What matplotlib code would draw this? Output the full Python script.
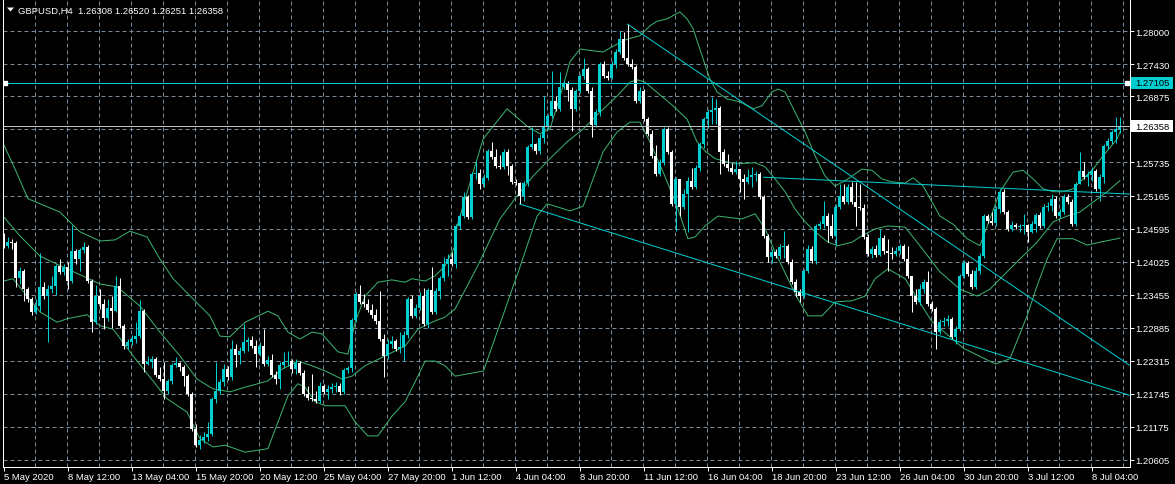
import matplotlib
matplotlib.use("Agg")
import matplotlib.pyplot as plt
from matplotlib.patches import Polygon, Rectangle
import numpy as np

plt.rcParams['font.family'] = ['Liberation Sans', 'DejaVu Sans']

# GBPUSD H4 candles, bar 0 = 5 May 2020 20:00, one bar every 4 hours
opens = [
    1.2442, 1.2430, 1.2436, 1.2435, 1.2374, 1.2386, 1.2355, 1.2338, 1.2316, 1.2326,
    1.2359, 1.2343, 1.2355, 1.2361, 1.2395, 1.2385, 1.2393, 1.2369, 1.2421, 1.2407,
    1.2423, 1.2428, 1.2369, 1.2298, 1.2343, 1.2330, 1.2305, 1.2323, 1.2317, 1.2361,
    1.2292, 1.2257, 1.2264, 1.2269, 1.2274, 1.2317, 1.2226, 1.2229, 1.2235, 1.2207,
    1.2200, 1.2180, 1.2197, 1.2224, 1.2228, 1.2221, 1.2205, 1.2174, 1.2114, 1.2086,
    1.2095, 1.2100, 1.2105, 1.2166, 1.2180, 1.2195, 1.2217, 1.2204, 1.2252, 1.2242,
    1.2248, 1.2264, 1.2267, 1.2257, 1.2243, 1.2257, 1.2226, 1.2233, 1.2207, 1.2200,
    1.2224, 1.2229, 1.2231, 1.2217, 1.2228, 1.2210, 1.2174, 1.2167, 1.2166, 1.2162,
    1.2188, 1.2178, 1.2183, 1.2186, 1.2188, 1.2178, 1.2216, 1.2219, 1.2302, 1.2347,
    1.2333, 1.2330, 1.2319, 1.2310, 1.2300, 1.2269, 1.2240, 1.2260, 1.2266, 1.2252,
    1.2255, 1.2276, 1.2338, 1.2309, 1.2323, 1.2343, 1.2295, 1.2354, 1.2316, 1.2352,
    1.2374, 1.2398, 1.2407, 1.2398, 1.2464, 1.2481, 1.2514, 1.2480, 1.2554, 1.2555,
    1.2536, 1.2547, 1.2593, 1.2583, 1.2567, 1.2566, 1.2592, 1.2567, 1.2540, 1.2538,
    1.2516, 1.2538, 1.2600, 1.2605, 1.2593, 1.2616, 1.2636, 1.2654, 1.2680, 1.2666,
    1.2704, 1.2709, 1.2698, 1.2666, 1.2697, 1.2723, 1.2735, 1.2697, 1.2638, 1.2660,
    1.2743, 1.2723, 1.2719, 1.2743, 1.2764, 1.2786, 1.2754, 1.2743, 1.2738, 1.2680,
    1.2697, 1.2648, 1.2623, 1.2585, 1.2554, 1.2574, 1.2631, 1.2592, 1.2502, 1.2545,
    1.2497, 1.2519, 1.2542, 1.2531, 1.2564, 1.2605, 1.2648, 1.2660, 1.2664, 1.2667,
    1.2592, 1.2571, 1.2564, 1.2557, 1.2562, 1.2545, 1.2540, 1.2548, 1.2552, 1.2554,
    1.2514, 1.2447, 1.2411, 1.2419, 1.2412, 1.2428, 1.2430, 1.2402, 1.2367, 1.2350,
    1.2343, 1.2386, 1.2424, 1.2404, 1.2464, 1.2467, 1.2481, 1.2464, 1.2447, 1.2497,
    1.2516, 1.2505, 1.2531, 1.2505, 1.2497, 1.2495, 1.2445, 1.2416, 1.2424, 1.2414,
    1.2443, 1.2421, 1.2417, 1.2416, 1.2421, 1.2430, 1.2407, 1.2378, 1.2343, 1.2333,
    1.2355, 1.2367, 1.2330, 1.2321, 1.2281, 1.2298, 1.2300, 1.2304, 1.2273, 1.2286,
    1.2378, 1.2400, 1.2381, 1.2359, 1.2386, 1.2412, 1.2481, 1.2473, 1.2469, 1.2493,
    1.2523, 1.2488, 1.2459, 1.2466, 1.2462, 1.2464, 1.2466, 1.2454, 1.2467, 1.2483,
    1.2464, 1.2497, 1.2498, 1.2510, 1.2481, 1.2488, 1.2514, 1.2505, 1.2467, 1.2536,
    1.2559, 1.2548, 1.2552, 1.2559, 1.2528, 1.2548, 1.2602, 1.2610, 1.2626, 1.26308,
]
highs = [
    1.2452, 1.2445, 1.2442, 1.2438, 1.2393, 1.2390, 1.2359, 1.2342, 1.2338, 1.2417,
    1.2367, 1.2362, 1.2378, 1.2398, 1.2407, 1.2398, 1.2402, 1.2466, 1.2424, 1.2426,
    1.2436, 1.2431, 1.2373, 1.2362, 1.2355, 1.2338, 1.2338, 1.2343, 1.2378, 1.2374,
    1.2295, 1.2269, 1.2276, 1.2298, 1.2336, 1.2321, 1.2240, 1.2240, 1.2238, 1.2221,
    1.2229, 1.2200, 1.2228, 1.2238, 1.2229, 1.2224, 1.2209, 1.2178, 1.2123, 1.2104,
    1.2109, 1.2126, 1.2169, 1.2229, 1.2200, 1.2226, 1.2223, 1.2267, 1.2260, 1.2255,
    1.2295, 1.2273, 1.2274, 1.2267, 1.2264, 1.2286, 1.2240, 1.2243, 1.2214, 1.2229,
    1.2247, 1.2248, 1.2235, 1.2235, 1.2231, 1.2216, 1.2188, 1.2209, 1.2180, 1.2195,
    1.2192, 1.2190, 1.2193, 1.2195, 1.2193, 1.2219, 1.2223, 1.2305, 1.2350, 1.2362,
    1.2347, 1.2338, 1.2330, 1.2321, 1.2352, 1.2278, 1.2269, 1.2274, 1.2269, 1.2281,
    1.2283, 1.2342, 1.2345, 1.2330, 1.2350, 1.2357, 1.2357, 1.2393, 1.2357, 1.2378,
    1.2411, 1.2416, 1.2419, 1.2467, 1.2486, 1.2523, 1.2517, 1.2557, 1.2576, 1.2562,
    1.2554, 1.2597, 1.2609, 1.2597, 1.2586, 1.2597, 1.2597, 1.2571, 1.2545, 1.2540,
    1.2542, 1.2604, 1.2635, 1.2607, 1.2623, 1.2688, 1.2657, 1.2731, 1.2688, 1.2729,
    1.2714, 1.2714, 1.2704, 1.2700, 1.2726, 1.2754, 1.2738, 1.2704, 1.2666, 1.2747,
    1.2748, 1.2731, 1.2748, 1.2769, 1.2800, 1.2798, 1.2812, 1.2752, 1.2741, 1.2704,
    1.2700, 1.2652, 1.2630, 1.2604, 1.2580, 1.2635, 1.2635, 1.2595, 1.2548, 1.2545,
    1.2528, 1.2548, 1.2564, 1.2569, 1.2609, 1.2652, 1.2666, 1.2686, 1.2683, 1.2671,
    1.2597, 1.2588, 1.2573, 1.2576, 1.2562, 1.2554, 1.2562, 1.2566, 1.2559, 1.2557,
    1.2517, 1.2450, 1.2424, 1.2424, 1.2433, 1.2455, 1.2433, 1.2407, 1.2373, 1.2355,
    1.2390, 1.2431, 1.2430, 1.2467, 1.2473, 1.2507, 1.2486, 1.2485, 1.2502, 1.2536,
    1.2536, 1.2536, 1.2540, 1.2540, 1.2536, 1.2502, 1.2450, 1.2430, 1.2431, 1.2459,
    1.2448, 1.2442, 1.2428, 1.2428, 1.2433, 1.2433, 1.2430, 1.2378, 1.2355, 1.2364,
    1.2373, 1.2386, 1.2335, 1.2324, 1.2304, 1.2307, 1.2310, 1.2307, 1.2292, 1.2381,
    1.2405, 1.2404, 1.2388, 1.2393, 1.2417, 1.2485, 1.2485, 1.2488, 1.2498, 1.2528,
    1.2528, 1.2492, 1.2473, 1.2469, 1.2467, 1.2485, 1.2467, 1.2473, 1.2486, 1.2488,
    1.2502, 1.2505, 1.2519, 1.2516, 1.2493, 1.2519, 1.2519, 1.2510, 1.2540, 1.2592,
    1.2574, 1.2559, 1.2566, 1.2562, 1.2554, 1.2605, 1.2616, 1.2630, 1.2652, 1.26520,
]
lows = [
    1.2426, 1.2426, 1.2424, 1.2359, 1.2364, 1.2335, 1.2333, 1.2311, 1.2312, 1.2317,
    1.2338, 1.2264, 1.2348, 1.2345, 1.2381, 1.2379, 1.2355, 1.2366, 1.2398, 1.2386,
    1.2417, 1.2366, 1.2281, 1.2295, 1.2321, 1.2286, 1.2300, 1.2288, 1.2316, 1.2288,
    1.2252, 1.2252, 1.2259, 1.2262, 1.2271, 1.2212, 1.2224, 1.2219, 1.2204, 1.2197,
    1.2166, 1.2174, 1.2192, 1.2221, 1.2214, 1.2188, 1.2171, 1.2110, 1.2083, 1.2080,
    1.2090, 1.2093, 1.2102, 1.2159, 1.2174, 1.2188, 1.2198, 1.2198, 1.2221, 1.2226,
    1.2245, 1.2248, 1.2254, 1.2221, 1.2240, 1.2223, 1.2223, 1.2204, 1.2192, 1.2183,
    1.2219, 1.2223, 1.2210, 1.2209, 1.2207, 1.2171, 1.2164, 1.2162, 1.2159, 1.2159,
    1.2174, 1.2166, 1.2176, 1.2178, 1.2173, 1.2174, 1.2210, 1.2212, 1.2298, 1.2330,
    1.2324, 1.2316, 1.2305, 1.2295, 1.2266, 1.2204, 1.2235, 1.2254, 1.2248, 1.2245,
    1.2231, 1.2271, 1.2305, 1.2305, 1.2319, 1.2292, 1.2288, 1.2312, 1.2312, 1.2338,
    1.2369, 1.2378, 1.2395, 1.2392, 1.2459, 1.2478, 1.2476, 1.2476, 1.2545, 1.2528,
    1.2531, 1.2543, 1.2580, 1.2564, 1.2562, 1.2562, 1.2552, 1.2536, 1.2535, 1.2502,
    1.2507, 1.2533, 1.2597, 1.2588, 1.2588, 1.2607, 1.2631, 1.2650, 1.2662, 1.2662,
    1.2700, 1.2680, 1.2628, 1.2662, 1.2693, 1.2717, 1.2693, 1.2617, 1.2635, 1.2654,
    1.2719, 1.2716, 1.2717, 1.2736, 1.2760, 1.2750, 1.2740, 1.2735, 1.2676, 1.2676,
    1.2645, 1.2619, 1.2581, 1.2550, 1.2550, 1.2569, 1.2588, 1.2498, 1.2455, 1.2481,
    1.2493, 1.2454, 1.2528, 1.2528, 1.2559, 1.2598, 1.2633, 1.2640, 1.2640, 1.2554,
    1.2567, 1.2559, 1.2554, 1.2554, 1.2523, 1.2511, 1.2536, 1.2531, 1.2542, 1.2511,
    1.2443, 1.2402, 1.2400, 1.2409, 1.2407, 1.2409, 1.2398, 1.2364, 1.2342, 1.2333,
    1.2340, 1.2383, 1.2400, 1.2398, 1.2459, 1.2460, 1.2436, 1.2443, 1.2430, 1.2493,
    1.2502, 1.2502, 1.2502, 1.2464, 1.2492, 1.2442, 1.2412, 1.2409, 1.2411, 1.2412,
    1.2416, 1.2386, 1.2407, 1.2412, 1.2416, 1.2404, 1.2374, 1.2316, 1.2330, 1.2328,
    1.2348, 1.2326, 1.2317, 1.2252, 1.2278, 1.2292, 1.2292, 1.2269, 1.2260, 1.2283,
    1.2374, 1.2378, 1.2355, 1.2355, 1.2381, 1.2409, 1.2469, 1.2466, 1.2464, 1.2486,
    1.2485, 1.2455, 1.2455, 1.2459, 1.2454, 1.2450, 1.2436, 1.2452, 1.2454, 1.2460,
    1.2460, 1.2490, 1.2490, 1.2478, 1.2478, 1.2485, 1.2502, 1.2464, 1.2464, 1.2536,
    1.2545, 1.2533, 1.2542, 1.2524, 1.2507, 1.2538, 1.2597, 1.2605, 1.2607, 1.26251,
]
closes = [
    1.2430, 1.2436, 1.2435, 1.2374, 1.2386, 1.2355, 1.2338, 1.2316, 1.2326, 1.2359,
    1.2343, 1.2355, 1.2361, 1.2395, 1.2385, 1.2393, 1.2369, 1.2421, 1.2407, 1.2423,
    1.2428, 1.2369, 1.2298, 1.2343, 1.2330, 1.2305, 1.2323, 1.2317, 1.2361, 1.2292,
    1.2257, 1.2264, 1.2269, 1.2274, 1.2317, 1.2226, 1.2229, 1.2235, 1.2207, 1.2200,
    1.2180, 1.2197, 1.2224, 1.2228, 1.2221, 1.2205, 1.2174, 1.2114, 1.2086, 1.2095,
    1.2100, 1.2105, 1.2166, 1.2180, 1.2195, 1.2217, 1.2204, 1.2252, 1.2242, 1.2248,
    1.2264, 1.2267, 1.2257, 1.2243, 1.2257, 1.2226, 1.2233, 1.2207, 1.2200, 1.2224,
    1.2229, 1.2231, 1.2217, 1.2228, 1.2210, 1.2174, 1.2167, 1.2166, 1.2162, 1.2188,
    1.2178, 1.2183, 1.2186, 1.2188, 1.2178, 1.2216, 1.2219, 1.2302, 1.2347, 1.2333,
    1.2330, 1.2319, 1.2310, 1.2300, 1.2269, 1.2240, 1.2260, 1.2266, 1.2252, 1.2255,
    1.2276, 1.2338, 1.2309, 1.2323, 1.2343, 1.2295, 1.2354, 1.2316, 1.2352, 1.2374,
    1.2398, 1.2407, 1.2398, 1.2464, 1.2481, 1.2514, 1.2480, 1.2554, 1.2555, 1.2536,
    1.2547, 1.2593, 1.2583, 1.2567, 1.2566, 1.2592, 1.2567, 1.2540, 1.2538, 1.2516,
    1.2538, 1.2600, 1.2605, 1.2593, 1.2616, 1.2636, 1.2654, 1.2680, 1.2666, 1.2704,
    1.2709, 1.2698, 1.2666, 1.2697, 1.2723, 1.2735, 1.2697, 1.2638, 1.2660, 1.2743,
    1.2723, 1.2719, 1.2743, 1.2764, 1.2786, 1.2754, 1.2743, 1.2738, 1.2680, 1.2697,
    1.2648, 1.2623, 1.2585, 1.2554, 1.2574, 1.2631, 1.2592, 1.2502, 1.2545, 1.2497,
    1.2519, 1.2542, 1.2531, 1.2564, 1.2605, 1.2648, 1.2660, 1.2664, 1.2667, 1.2592,
    1.2571, 1.2564, 1.2557, 1.2562, 1.2545, 1.2540, 1.2548, 1.2552, 1.2554, 1.2514,
    1.2447, 1.2411, 1.2419, 1.2412, 1.2428, 1.2430, 1.2402, 1.2367, 1.2350, 1.2343,
    1.2386, 1.2424, 1.2404, 1.2464, 1.2467, 1.2481, 1.2464, 1.2447, 1.2497, 1.2516,
    1.2505, 1.2531, 1.2505, 1.2497, 1.2495, 1.2445, 1.2416, 1.2424, 1.2414, 1.2443,
    1.2421, 1.2417, 1.2416, 1.2421, 1.2430, 1.2407, 1.2378, 1.2343, 1.2333, 1.2355,
    1.2367, 1.2330, 1.2321, 1.2281, 1.2298, 1.2300, 1.2304, 1.2273, 1.2286, 1.2378,
    1.2400, 1.2381, 1.2359, 1.2386, 1.2412, 1.2481, 1.2473, 1.2469, 1.2493, 1.2523,
    1.2488, 1.2459, 1.2466, 1.2462, 1.2464, 1.2466, 1.2454, 1.2467, 1.2483, 1.2464,
    1.2497, 1.2498, 1.2510, 1.2481, 1.2488, 1.2514, 1.2505, 1.2467, 1.2536, 1.2559,
    1.2548, 1.2552, 1.2559, 1.2528, 1.2548, 1.2602, 1.2610, 1.2626, 1.26308, 1.26358,
]

# Bollinger bands at the bar positions listed
upper_bars = [0, 2.9, 6.1, 14.1, 19.1, 24.1, 27.9, 31.6, 35.9, 39.1, 42.4, 47.4, 51.6, 54.1,
              56.6, 60.4, 66.1, 68.6, 71.1, 74.1, 77.1, 79.6, 83.6, 86.1, 87.9, 90.4, 93.6,
              97.1, 100.4, 102.1, 105.4, 107.9, 110.4, 112.9, 113.4, 119.9, 125.9, 130.9,
              134.1, 136.6, 139.9, 141.6, 144.1, 147.4, 149.9, 152.4, 155.9, 159.1, 161.6,
              163.4, 165.9, 169.1, 170.9, 172.4, 174.9, 176.6, 178.4, 180.9, 184.1, 187.4,
              189.6, 192.1, 193.6, 195.4, 197.9, 200.4, 202.9, 205.4, 207.9, 211.1, 214.6,
              217.1, 219.6, 222.1, 225.4, 227.4, 229.9, 234.1, 237.4, 240.9, 244.1, 246.6,
              249.1, 252.4, 254.9, 257.4, 259.9, 262.4, 264.9, 267.4, 269.9, 272.4, 274.9,
              278.4, 279.1]
upper_vals = [1.2605, 1.2562, 1.2511, 1.2488, 1.2454, 1.2438, 1.2440, 1.2455, 1.2445, 1.2407,
              1.2373, 1.2338, 1.2309, 1.2274, 1.2273, 1.2298, 1.2317, 1.2309, 1.2281, 1.2269,
              1.2281, 1.2278, 1.2247, 1.2243, 1.2298, 1.2343, 1.2367, 1.2371, 1.2367, 1.2373,
              1.2369, 1.2378, 1.2395, 1.2430, 1.2464, 1.2614, 1.2666, 1.2636, 1.2623, 1.2631,
              1.2705, 1.2747, 1.2769, 1.2766, 1.2764, 1.2774, 1.2786, 1.2792, 1.2809, 1.2817,
              1.2821, 1.2833, 1.2821, 1.2804, 1.2752, 1.2717, 1.2695, 1.2683, 1.2678, 1.2666,
              1.2671, 1.2695, 1.2700, 1.2695, 1.2660, 1.2626, 1.2585, 1.2550, 1.2533, 1.2545,
              1.2562, 1.2560, 1.2545, 1.2540, 1.2538, 1.2547, 1.2533, 1.2481, 1.2467, 1.2442,
              1.2430, 1.2476, 1.2523, 1.2557, 1.2560, 1.2545, 1.2528, 1.2523, 1.2523, 1.2528,
              1.2545, 1.2562, 1.2585, 1.2614, 1.2626]
middle_bars = [0, 4.1, 9.1, 15.9, 24.1, 28.4, 34.1, 39.1, 44.1, 48.4, 52.4, 56.6, 60.4, 63.6,
               66.1, 69.6, 73.6, 77.1, 80.4, 84.6, 87.1, 90.4, 95.4, 100.4, 103.6, 107.1, 110.4,
               112.9, 118.4, 124.1, 128.4, 132.4, 136.6, 140.9, 144.9, 149.1, 153.4, 156.6,
               158.4, 160.4, 162.4, 167.4, 170.9, 173.4, 175.4, 177.9, 182.9, 187.9, 190.4,
               192.9, 195.4, 197.9, 200.4, 202.9, 206.1, 208.6, 212.1, 214.6, 217.9, 221.1,
               225.4, 229.1, 234.1, 239.1, 243.4, 246.6, 250.9, 254.1, 258.4, 262.4, 265.9,
               269.1, 272.4, 275.9, 279.1]
middle_vals = [1.2480, 1.2447, 1.2412, 1.2390, 1.2364, 1.2359, 1.2326, 1.2281, 1.2240, 1.2200,
               1.2183, 1.2178, 1.2186, 1.2192, 1.2197, 1.2217, 1.2231, 1.2223, 1.2214, 1.2200,
               1.2205, 1.2223, 1.2240, 1.2257, 1.2286, 1.2298, 1.2307, 1.2321, 1.2393, 1.2476,
               1.2516, 1.2550, 1.2580, 1.2609, 1.2631, 1.2660, 1.2688, 1.2712, 1.2716, 1.2712,
               1.2700, 1.2671, 1.2648, 1.2609, 1.2593, 1.2580, 1.2571, 1.2573, 1.2566, 1.2545,
               1.2523, 1.2493, 1.2471, 1.2454, 1.2436, 1.2430, 1.2436, 1.2447, 1.2459, 1.2464,
               1.2462, 1.2430, 1.2385, 1.2355, 1.2343, 1.2355, 1.2385, 1.2407, 1.2436, 1.2471,
               1.2481, 1.2488, 1.2505, 1.2523, 1.2542]
lower_bars = [0, 2.4, 5.9, 9.1, 13.4, 15.9, 20.9, 24.1, 27.4, 32.4, 40.9, 45.9, 49.1, 52.4,
              55.4, 60.4, 66.1, 71.1, 73.6, 75.4, 77.9, 80.4, 85.4, 87.9, 91.1, 93.6, 97.1,
              100.4, 102.9, 105.4, 107.9, 110.4, 112.9, 120.0, 129.1, 133.4, 135.9, 138.4,
              141.6, 144.9, 147.4, 149.9, 153.4, 156.6, 159.1, 161.6, 164.9, 168.4, 171.1,
              172.9, 175.4, 178.6, 184.6, 187.9, 190.4, 192.9, 196.1, 198.6, 201.1, 204.6,
              207.9, 212.1, 215.4, 217.9, 221.1, 225.4, 232.0, 240.0, 248.0, 251.6, 255.9,
              258.4, 260.9, 263.4, 267.4, 270.9, 274.1, 279.1]
lower_vals = [1.2369, 1.2373, 1.2343, 1.2316, 1.2298, 1.2304, 1.2311, 1.2292, 1.2286, 1.2240,
              1.2166, 1.2143, 1.2097, 1.2083, 1.2086, 1.2074, 1.2080, 1.2171, 1.2192, 1.2186,
              1.2161, 1.2154, 1.2154, 1.2126, 1.2102, 1.2102, 1.2136, 1.2161, 1.2195, 1.2231,
              1.2231, 1.2223, 1.2205, 1.2214, 1.2393, 1.2481, 1.2502, 1.2497, 1.2490, 1.2498,
              1.2545, 1.2592, 1.2626, 1.2643, 1.2643, 1.2609, 1.2557, 1.2498, 1.2442, 1.2445,
              1.2464, 1.2481, 1.2476, 1.2485, 1.2459, 1.2419, 1.2373, 1.2338, 1.2309, 1.2309,
              1.2333, 1.2335, 1.2343, 1.2373, 1.2390, 1.2373, 1.2300, 1.2253, 1.2226, 1.2235,
              1.2309, 1.2361, 1.2407, 1.2442, 1.2442, 1.2431, 1.2436, 1.2443]

# trend lines: (bar, price) anchor pairs
trend_lines = [
    ((156, 1.2812), (281.5, 1.2224)),
    ((129, 1.2502), (281.5, 1.2172)),
    ((190, 1.2548), (281.5, 1.2519)),
]
level = 1.27105
bid = 1.26358

price_labels = ['1.20605', '1.21175', '1.21745', '1.22315', '1.22885', '1.23455', '1.24025',
                '1.24595', '1.25165', '1.25735', '1.26305', '1.26875', '1.27430', '1.28000']
time_labels = ['5 May 2020', '8 May 12:00', '13 May 04:00', '15 May 20:00', '20 May 12:00',
               '25 May 04:00', '27 May 20:00', '1 Jun 12:00', '4 Jun 04:00', '8 Jun 20:00',
               '11 Jun 12:00', '16 Jun 04:00', '18 Jun 20:00', '23 Jun 12:00', '26 Jun 04:00',
               '30 Jun 20:00', '3 Jul 12:00', '8 Jul 04:00']
header = 'GBPUSD,H4  1.26308 1.26520 1.26251 1.26358'

BULL = '#00CED1'
BEAR = '#FFFFFF'
LINE = '#00CED1'
BAND = '#3CB371'
GRID = '#778899'
PX = 0.72  # one pixel in points at 100 dpi

W, H = 1175, 485
fig = plt.figure(figsize=(W / 100, H / 100), dpi=100, facecolor='black')
ax = fig.add_axes([2.5 / W, (H - 468) / H, 1127 / W, 468 / H])
ax.set_facecolor('black')
ax.set_xlim(-0.25, 281.5)
ax.set_ylim(1.20484, 1.28553)
py = (1.28553 - 1.20484) / 468  # price per pixel

# grid
for lab in price_labels:
    ax.axhline(float(lab), color=GRID, lw=PX, ls=(0, (4, 3)), zorder=0)
for b in range(8, 282, 8):
    ax.axvline(b - 0.125, color=GRID, lw=PX, ls=(0, (4, 3)), zorder=0)

# candles
o = np.array(opens)
h = np.array(highs)
l = np.array(lows)
c = np.array(closes)
x = np.arange(len(o))
cols = np.where(c >= o, BULL, BEAR)
ax.vlines(x, l, h, colors=cols, lw=PX, zorder=3)
ax.bar(x, np.maximum(np.abs(c - o), py), bottom=np.minimum(o, c), width=0.75,
       color=cols, lw=0, zorder=4)

# bollinger bands
ax.plot(upper_bars, upper_vals, color=BAND, lw=PX, zorder=2)
ax.plot(middle_bars, middle_vals, color=BAND, lw=PX, zorder=2)
ax.plot(lower_bars, lower_vals, color=BAND, lw=PX, zorder=2)

# objects
for (x0, y0), (x1, y1) in trend_lines:
    ax.plot([x0, x1], [y0, y1], color=LINE, lw=PX, zorder=5)
ax.axhline(level, color=LINE, lw=PX, zorder=5)
ax.plot([0.4, 280.9], [level, level], ls='none', marker='s', ms=3,
        mfc='white', mec='white', zorder=6)
ax.axhline(bid, color='#C0C0C0', lw=PX, zorder=5)

# axes frame
for s in ('left', 'bottom', 'right'):
    ax.spines[s].set_color('white')
    ax.spines[s].set_linewidth(PX)
ax.spines['top'].set_visible(False)

# the scale label hidden behind the bid box is left blank
shown = ['' if abs(float(s) - bid) < 8 * py else s for s in price_labels]
ax.yaxis.tick_right()
ax.set_yticks([float(s) for s in price_labels])
ax.set_yticklabels(shown)
ax.tick_params(axis='y', direction='out', length=4 * PX, width=PX, color='white',
               labelcolor='white', labelsize=6.8, pad=1.5)
ax.set_xticks(range(0, 280, 16))
ax.set_xticklabels(time_labels, ha='left')
ax.tick_params(axis='x', direction='out', length=4 * PX, width=PX, color='white',
               labelcolor='white', labelsize=6.8, pad=0.8)

# price boxes on the scale
for price, fc in ((level, LINE), (bid, 'white')):
    ax.add_patch(Rectangle((281.5 + 0.25, price - 6 * py), 42.5 / 4, 12 * py,
                           facecolor=fc, edgecolor='none', clip_on=False, zorder=10))
    ax.text(281.5 + 5.5 / 4, price, '%.5f' % price, color='black', fontsize=6.8,
            va='center', ha='left', clip_on=False, zorder=11)

# header
fig.add_artist(Polygon([[7 / W, 1 - 8.5 / H], [14 / W, 1 - 8.5 / H], [10.5 / W, 1 - 12.5 / H]],
                       closed=True, transform=fig.transFigure, facecolor='white', edgecolor='none'))
fig.text(18 / W, 1 - 13.5 / H, header, color='white', fontsize=6.8, va='baseline')

fig.savefig('out.png', dpi=100, facecolor='black')
